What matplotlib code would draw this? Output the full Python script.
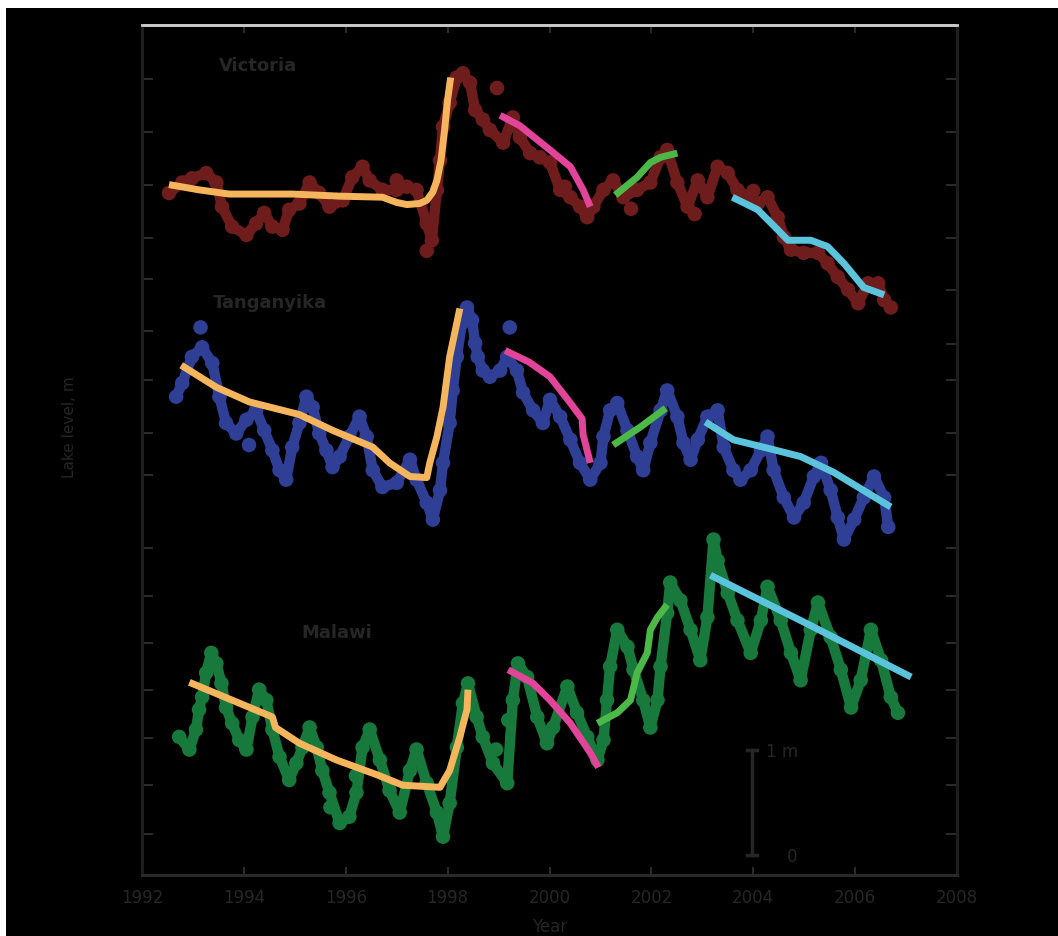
import numpy as np
import matplotlib.pyplot as plt

# Niveles de los lagos (m, desplazados verticalmente para apilar las series)
victoria_anio = [1992.53, 1992.79, 1992.98, 1993.26, 1993.46, 1993.57, 1993.77, 1994.05, 1994.24,
                 1994.40, 1994.56, 1994.76, 1994.89, 1995.09, 1995.29, 1995.48, 1995.68, 1995.94,
                 1996.13, 1996.33, 1996.47, 1996.72, 1997.00, 1997.20, 1997.39, 1997.59, 1997.69,
                 1997.79, 1997.85, 1997.91, 1998.04, 1998.18, 1998.30, 1998.44, 1998.54, 1998.69,
                 1998.83, 1999.09, 1999.28, 1999.42, 1999.62, 1999.81, 2000.01, 2000.21, 2000.41,
                 2000.60, 2000.74, 2000.86, 2001.06, 2001.25, 2001.45, 2001.72, 2001.98, 2002.18,
                 2002.31, 2002.51, 2002.71, 2002.91, 2003.10, 2003.30, 2003.50, 2003.69, 2003.89,
                 2004.09, 2004.28, 2004.48, 2004.60, 2004.74, 2004.99, 2005.27, 2005.46, 2005.66,
                 2005.86, 2006.06, 2006.25, 2006.45, 2006.57, 2006.70]
victoria_nivel = [6.60, 6.70, 6.74, 6.79, 6.70, 6.47, 6.28, 6.20, 6.31,
                  6.41, 6.28, 6.25, 6.44, 6.50, 6.70, 6.60, 6.47, 6.53,
                  6.75, 6.85, 6.72, 6.63, 6.63, 6.66, 6.63, 6.31, 6.15,
                  6.63, 6.91, 7.23, 7.46, 7.70, 7.74, 7.65, 7.39, 7.30,
                  7.20, 7.08, 7.32, 7.13, 6.98, 6.94, 6.89, 6.63, 6.56,
                  6.47, 6.37, 6.47, 6.63, 6.72, 6.56, 6.63, 6.70, 6.94,
                  7.01, 6.70, 6.47, 6.72, 6.56, 6.85, 6.79, 6.63, 6.56,
                  6.50, 6.56, 6.37, 6.18, 6.06, 6.03, 6.03, 5.93, 5.80,
                  5.68, 5.55, 5.74, 5.74, 5.58, 5.51]
victoria_extra_anio = [1997.00, 1997.59, 1998.97, 2000.30, 2001.60, 2002.85, 2004.00]
victoria_extra_nivel = [6.72, 6.05, 7.60, 6.66, 6.45, 6.40, 6.62]

tanganica_anio = [1992.67, 1992.79, 1992.98, 1993.18, 1993.38, 1993.52, 1993.65, 1993.85, 1994.05,
                  1994.24, 1994.40, 1994.56, 1994.70, 1994.83, 1994.95, 1995.09, 1995.23, 1995.35,
                  1995.48, 1995.62, 1995.74, 1995.88, 1996.07, 1996.27, 1996.41, 1996.53, 1996.72,
                  1997.00, 1997.26, 1997.39, 1997.59, 1997.71, 1997.85, 1997.91, 1998.04, 1998.10,
                  1998.18, 1998.28, 1998.38, 1998.48, 1998.54, 1998.59, 1998.69, 1998.83, 1999.03,
                  1999.17, 1999.36, 1999.48, 1999.68, 1999.87, 2000.01, 2000.21, 2000.41, 2000.60,
                  2000.80, 2001.00, 2001.06, 2001.19, 2001.33, 2001.53, 2001.72, 2001.84, 2001.98,
                  2002.18, 2002.31, 2002.51, 2002.63, 2002.77, 2002.91, 2003.10, 2003.30, 2003.42,
                  2003.61, 2003.75, 2003.95, 2004.15, 2004.28, 2004.40, 2004.60, 2004.80, 2004.99,
                  2005.19, 2005.33, 2005.52, 2005.66, 2005.78, 2005.98, 2006.17, 2006.37, 2006.57,
                  2006.65]
tanganica_nivel = [4.66, 4.79, 5.04, 5.13, 4.98, 4.66, 4.41, 4.31, 4.44,
                   4.53, 4.34, 4.15, 3.96, 3.87, 4.18, 4.41, 4.66, 4.56,
                   4.31, 4.15, 3.99, 4.09, 4.28, 4.47, 4.28, 3.96, 3.80,
                   3.84, 4.06, 3.87, 3.65, 3.49, 3.77, 4.03, 4.41, 4.72,
                   5.04, 5.36, 5.51, 5.39, 5.17, 5.04, 4.91, 4.85, 4.91,
                   5.04, 4.91, 4.70, 4.53, 4.41, 4.63, 4.47, 4.25, 4.03,
                   3.87, 4.03, 4.28, 4.53, 4.60, 4.34, 4.09, 3.96, 4.22,
                   4.53, 4.72, 4.47, 4.22, 4.06, 4.25, 4.47, 4.53, 4.18,
                   3.96, 3.87, 3.96, 4.15, 4.28, 3.96, 3.70, 3.51, 3.65,
                   3.90, 4.03, 3.77, 3.51, 3.30, 3.49, 3.70, 3.90, 3.70,
                   3.42]
tanganica_extra_anio = [1993.15, 1999.22, 1994.10]
tanganica_extra_nivel = [5.32, 5.32, 4.20]

malawi_anio = [1992.73, 1992.93, 1993.06, 1993.12, 1993.18, 1993.26, 1993.36, 1993.46, 1993.56,
               1993.65, 1993.77, 1993.91, 1994.05, 1994.17, 1994.30, 1994.44, 1994.56, 1994.70,
               1994.89, 1995.03, 1995.15, 1995.29, 1995.43, 1995.54, 1995.68, 1995.88, 1996.07,
               1996.21, 1996.33, 1996.47, 1996.67, 1996.86, 1997.06, 1997.26, 1997.39, 1997.59,
               1997.79, 1997.91, 1998.04, 1998.18, 1998.30, 1998.40, 1998.57, 1998.69, 1998.89,
               1999.17, 1999.28, 1999.38, 1999.56, 1999.76, 1999.95, 2000.07, 2000.35, 2000.54,
               2000.74, 2000.94, 2001.06, 2001.13, 2001.19, 2001.33, 2001.53, 2001.65, 2001.84,
               2001.98, 2002.12, 2002.18, 2002.31, 2002.37, 2002.57, 2002.77, 2002.96, 2003.10,
               2003.22, 2003.30, 2003.50, 2003.69, 2003.95, 2004.15, 2004.28, 2004.54, 2004.74,
               2004.93, 2005.13, 2005.27, 2005.52, 2005.72, 2005.92, 2006.11, 2006.31, 2006.51,
               2006.70, 2006.84]
malawi_nivel = [1.42, 1.30, 1.49, 1.68, 1.80, 2.03, 2.22, 2.12, 1.93,
                1.70, 1.55, 1.39, 1.30, 1.61, 1.87, 1.77, 1.49, 1.23,
                1.01, 1.17, 1.32, 1.51, 1.32, 1.10, 0.89, 0.60, 0.66,
                0.89, 1.32, 1.49, 1.20, 0.91, 0.70, 1.10, 1.30, 0.98,
                0.70, 0.47, 0.79, 1.32, 1.74, 1.93, 1.61, 1.42, 1.17,
                0.98, 1.77, 2.12, 1.99, 1.61, 1.36, 1.51, 1.90, 1.65,
                1.42, 1.20, 1.39, 1.77, 2.09, 2.44, 2.28, 2.06, 1.77,
                1.51, 1.77, 2.09, 2.60, 2.89, 2.72, 2.44, 2.15, 2.56,
                3.30, 3.10, 2.79, 2.53, 2.22, 2.53, 2.85, 2.53, 2.22,
                1.96, 2.44, 2.70, 2.37, 2.06, 1.70, 1.96, 2.44, 2.15,
                1.80, 1.65]
malawi_extra_anio = [1999.19, 1998.95, 1995.70, 1996.20]
malawi_extra_nivel = [1.58, 1.30, 0.75, 1.05]

# Ajustes (naranja 1992-1998, rosa 1999-2000, verde 2001-2002, celeste 2003-2006)
vic_naranja_x = [1992.53, 1993.12, 1993.71, 1994.95, 1995.88, 1996.72, 1997.00, 1997.20, 1997.45,
                 1997.59, 1997.71, 1997.79, 1997.87, 1997.94, 1998.00, 1998.06]
vic_naranja_y = [6.68, 6.63, 6.59, 6.59, 6.57, 6.56, 6.51, 6.49, 6.50,
                 6.53, 6.61, 6.72, 6.91, 7.20, 7.49, 7.70]
vic_rosa_x = [1999.03, 1999.42, 2000.01, 2000.41, 2000.66, 2000.80]
vic_rosa_y = [7.34, 7.24, 7.01, 6.85, 6.63, 6.47]
vic_verde_x = [2001.29, 2001.72, 2001.98, 2002.18, 2002.51]
vic_verde_y = [6.58, 6.75, 6.89, 6.94, 6.98]
vic_celeste_x = [2003.59, 2004.09, 2004.48, 2004.68, 2005.13, 2005.46, 2005.78, 2006.17, 2006.57]
vic_celeste_y = [6.56, 6.44, 6.25, 6.15, 6.15, 6.09, 5.93, 5.70, 5.63]

tan_naranja_x = [1992.77, 1993.46, 1994.11, 1995.09, 1995.74, 1996.53, 1996.86, 1997.26, 1997.59,
                 1997.65, 1997.79, 1997.91, 1998.04, 1998.24]
tan_naranja_y = [4.96, 4.75, 4.61, 4.49, 4.34, 4.18, 4.03, 3.90, 3.89,
                 4.03, 4.28, 4.56, 5.04, 5.50]
tan_rosa_x = [1999.13, 1999.60, 2000.01, 2000.41, 2000.64, 2000.66, 2000.80]
tan_rosa_y = [5.10, 4.99, 4.85, 4.60, 4.45, 4.30, 4.03]
tan_verde_x = [2001.25, 2001.78, 2002.28]
tan_verde_y = [4.20, 4.37, 4.55]
tan_celeste_x = [2003.06, 2003.61, 2004.28, 2004.93, 2005.58, 2006.70]
tan_celeste_y = [4.42, 4.25, 4.17, 4.09, 3.94, 3.61]

mal_naranja_x = [1992.93, 1993.77, 1994.56, 1994.62, 1995.09, 1995.82, 1996.61, 1997.12, 1997.85,
                 1998.04, 1998.24, 1998.38, 1998.40]
mal_naranja_y = [1.94, 1.77, 1.61, 1.51, 1.36, 1.20, 1.06, 0.96, 0.94,
                 1.10, 1.42, 1.68, 1.87]
mal_rosa_x = [1999.19, 1999.68, 2000.01, 2000.41, 2000.80, 2000.96]
mal_rosa_y = [2.06, 1.93, 1.77, 1.55, 1.27, 1.13]
mal_verde_x = [2000.94, 2001.33, 2001.59, 2001.72, 2001.92, 2001.98, 2002.12, 2002.31]
mal_verde_y = [1.55, 1.65, 1.77, 2.03, 2.22, 2.44, 2.56, 2.68]
mal_celeste_x = [2003.16, 2005.13, 2007.10]
mal_celeste_y = [2.96, 2.48, 1.99]

anios_ticks = [1992, 1994, 1996, 1998, 2000, 2002, 2004, 2006, 2008]
ticks_izq = [7.69, 7.18, 6.68, 6.17, 5.78, 5.29, 4.82, 4.31, 3.91, 3.22, 2.76, 2.31, 1.87, 1.41, 0.96, 0.50]
ticks_der = [7.69, 7.18, 6.68, 6.17, 5.68, 5.16, 4.82, 4.31, 3.91, 3.22, 2.76, 2.31, 1.87, 1.41, 0.96, 0.50]

GRIS = '#262626'
ROJO = '#6e1c1c'
AZUL = '#2f3f95'
VERDE = '#177a3c'
NARANJA = '#f5b55c'
ROSA = '#e2449a'
VERDE_AJ = '#4cb848'
CELESTE = '#5bc4dc'

fig = plt.figure(figsize=(10.58, 9.36), dpi=100)
fig.patch.set_facecolor('white')
# Fondo negro con un pequeño borde blanco arriba e izquierda.
fondo = fig.add_axes([6/1058, 0, 1 - 6/1058, 1 - 8/936])
fondo.set_facecolor('black')
fondo.set_xticks([])
fondo.set_yticks([])
for s in fondo.spines.values():
    s.set_visible(False)

ax = fig.add_axes([142/1058, 61/936, 815/1058, 850/936])
ax.set_facecolor('black')
ax.set_xlim(1992, 2008)
ax.set_ylim(0.105, 8.2)

#=====================
# Series de datos.
#=====================
for xs, ys, ex, ey, c in [(victoria_anio, victoria_nivel, victoria_extra_anio, victoria_extra_nivel, ROJO),
                          (tanganica_anio, tanganica_nivel, tanganica_extra_anio, tanganica_extra_nivel, AZUL),
                          (malawi_anio, malawi_nivel, malawi_extra_anio, malawi_extra_nivel, VERDE)]:
    ax.plot(xs, ys, color=c, lw=7.5, solid_joinstyle='round', solid_capstyle='round', zorder=2)
    ax.scatter(xs, ys, s=110, color=c, edgecolors='none', zorder=2)
    ax.scatter(ex, ey, s=110, color=c, edgecolors='none', zorder=2)

for xs, ys, c in [(vic_naranja_x, vic_naranja_y, NARANJA), (vic_rosa_x, vic_rosa_y, ROSA),
                  (vic_verde_x, vic_verde_y, VERDE_AJ), (vic_celeste_x, vic_celeste_y, CELESTE),
                  (tan_naranja_x, tan_naranja_y, NARANJA), (tan_rosa_x, tan_rosa_y, ROSA),
                  (tan_verde_x, tan_verde_y, VERDE_AJ), (tan_celeste_x, tan_celeste_y, CELESTE),
                  (mal_naranja_x, mal_naranja_y, NARANJA), (mal_rosa_x, mal_rosa_y, ROSA),
                  (mal_verde_x, mal_verde_y, VERDE_AJ), (mal_celeste_x, mal_celeste_y, CELESTE)]:
    ax.plot(xs, ys, color=c, lw=5, solid_capstyle='butt', solid_joinstyle='round', zorder=3)

# Nombres de los lagos.
ax.text(1994.28, 7.81, 'Victoria', color=GRIS, fontsize=13, fontweight='bold', ha='center', va='center')
ax.text(1994.52, 5.55, 'Tanganyika', color=GRIS, fontsize=13, fontweight='bold', ha='center', va='center')
ax.text(1995.82, 2.41, 'Malawi', color=GRIS, fontsize=13, fontweight='bold', ha='center', va='center')

# Barra de escala de 1 m.
ax.plot([2003.98, 2003.98], [0.30, 1.30], color=GRIS, lw=2.5, zorder=4)
ax.plot([2003.88, 2004.08], [1.30, 1.30], color=GRIS, lw=2.5, zorder=4)
ax.plot([2003.88, 2004.08], [0.30, 0.30], color=GRIS, lw=2.5, zorder=4)
ax.text(2004.25, 1.28, '1 m', color=GRIS, fontsize=12, ha='left', va='center')
ax.text(2004.76, 0.28, '0', color=GRIS, fontsize=12, ha='center', va='center')

#=====================
# Ejes.
#=====================
ax.set_xticks(anios_ticks)
ax.set_xticklabels([str(a) for a in anios_ticks])
ax.tick_params(axis='x', direction='in', length=6, width=1.5, color='#2a2a2a', labelcolor=GRIS,
               labelsize=12, pad=10, top=True)
ax.set_yticks(ticks_izq)
ax.set_yticklabels([])
ax.tick_params(axis='y', direction='in', length=8, width=1.2, color='#333333')
ax2 = ax.twinx()
ax2.set_ylim(ax.get_ylim())
ax2.set_yticks(ticks_der)
ax2.set_yticklabels([])
ax2.tick_params(axis='y', direction='in', length=8, width=1.2, color='#333333')
for a in (ax, ax2):
    a.spines['left'].set_color('#1e1e1e')
    a.spines['right'].set_color('#1e1e1e')
    a.spines['bottom'].set_color('#2a2a2a')
    a.spines['top'].set_color('#c8c8c8')
    for s in a.spines.values():
        s.set_linewidth(2)

ax.set_xlabel('Year', color=GRIS, fontsize=12, labelpad=8)
fig.text(69/1058, 1 - 427/936, 'Lake level, m', color=GRIS, fontsize=11, rotation=90,
         ha='center', va='center')

plt.savefig('out.png', dpi=100, facecolor=fig.get_facecolor())
